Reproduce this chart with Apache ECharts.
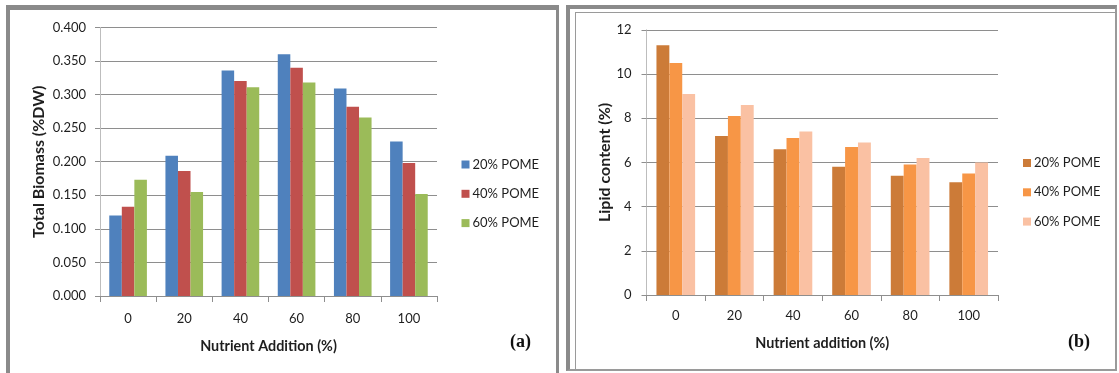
<!DOCTYPE html>
<html>
<head>
<meta charset="utf-8">
<script src="https://cdn.jsdelivr.net/npm/echarts@6/dist/echarts.min.js"></script>
<style>
  html, body { margin: 0; padding: 0; background: #fff; }
  #wrap { position: relative; width: 1119px; height: 373px; overflow: hidden; background: #fff; }
  .chart { position: absolute; top: 0; height: 373px; }
  #chartA { left: 0; width: 562px; }
  #chartB { left: 562px; width: 557px; }
  .bd { position: absolute; box-sizing: border-box; pointer-events: none; }
  #bA { left: 6px; top: 5px; width: 553px; height: 420px; border-left: 4px solid #8a8a8a; border-top: 5px solid #8a8a8a; border-right: 3px solid #8a8a8a; }
  #bB { left: 566px; top: 5px; width: 551px; height: 366px; border-left: 4px solid #8a8a8a; border-top: 4px solid #8a8a8a; border-right: 2px solid #9a9a9a; border-bottom: 2px solid #9a9a9a; }
  #bB2 { left: 575px; top: 12px; width: 541px; height: 358px; border-left: 1px solid #9a9a9a; border-top: 1px solid #9a9a9a; }
</style>
</head>
<body>
<div id="wrap">
  <div id="chartA" class="chart"></div>
  <div id="chartB" class="chart"></div>
  <div id="bA" class="bd"></div>
  <div id="bB" class="bd"></div>
  <div id="bB2" class="bd"></div>
</div>
<script>
// ---- data ----
const categories = ['0', '20', '40', '60', '80', '100'];
const seriesNames = ['20% POME', '40% POME', '60% POME'];

const biomass20 = [0.120, 0.209, 0.336, 0.360, 0.309, 0.230];
const biomass40 = [0.133, 0.186, 0.320, 0.340, 0.282, 0.198];
const biomass60 = [0.173, 0.155, 0.311, 0.318, 0.266, 0.152];

const lipid20 = [11.3, 7.2, 6.6, 5.8, 5.4, 5.1];
const lipid40 = [10.5, 8.1, 7.1, 6.7, 5.9, 5.5];
const lipid60 = [9.1, 8.6, 7.4, 6.9, 6.2, 6.0];

const biomassAxis = { min: 0, max: 0.4, interval: 0.05, decimals: 3 };
const lipidAxis = { min: 0, max: 12, interval: 2, decimals: 0 };

const titleA = { y: 'Total Biomass (%DW)', x: 'Nutrient Addition (%)', tag: '(a)' };
const titleB = { y: 'Lipid content (%)', x: 'Nutrient addition (%)', tag: '(b)' };

const colorsA = ['#4F81BD', '#C0504D', '#9BBB59'];
const colorsB = ['#CC7B38', '#F79646', '#FAC1A3'];

// ---- styling ----
const FONT = 'Lato, "Open Sans", sans-serif';
const TXT = '#1e1e1e';
const GRID = '#8e8e8e';

function makeOption(cfg) {
  return {
    animation: false,
    textStyle: { fontFamily: FONT },
    grid: { left: cfg.grid[0], top: cfg.grid[1], width: cfg.grid[2], height: cfg.grid[3] },
    legend: {
      orient: 'vertical',
      left: cfg.legend[0], top: cfg.legend[1],
      padding: 0,
      itemWidth: 8, itemHeight: 8, itemGap: 16.3,
      icon: 'rect',
      textStyle: { fontFamily: FONT, fontSize: 13, color: TXT, padding: [0, 0, 0, -2] },
      data: seriesNames
    },
    xAxis: {
      type: 'category',
      data: categories,
      name: cfg.titles.x,
      nameLocation: 'middle',
      nameGap: cfg.xNameGap,
      nameMoveOverlap: false,
      nameTextStyle: { fontFamily: FONT, fontSize: 14.4, fontWeight: 'bold', color: TXT },
      axisLine: { lineStyle: { color: GRID, width: 1 } },
      axisTick: { show: true, length: 6, alignWithLabel: false, lineStyle: { color: GRID } },
      axisLabel: { fontFamily: FONT, fontSize: 13, color: TXT, margin: cfg.xLabelMargin }
    },
    yAxis: {
      type: 'value',
      min: cfg.axis.min, max: cfg.axis.max, interval: cfg.axis.interval,
      name: cfg.titles.y,
      nameLocation: 'middle',
      nameGap: cfg.yNameGap,
      nameMoveOverlap: false,
      nameTextStyle: { fontFamily: FONT, fontSize: 16, fontWeight: 'bold', color: TXT },
      axisLine: { show: true, lineStyle: { color: '#bdbdbd', width: 1 } },
      axisTick: { show: true, length: 5, lineStyle: { color: GRID } },
      splitLine: { show: true, lineStyle: { color: GRID, width: 1 } },
      axisLabel: {
        fontFamily: FONT, fontSize: 13, color: TXT, margin: cfg.yLabelMargin,
        formatter: v => v.toFixed(cfg.axis.decimals)
      }
    },
    graphic: [{
      type: 'text',
      left: cfg.tag[0], top: cfg.tag[1],
      style: { text: cfg.titles.tag, font: 'bold 18px "Liberation Serif", "Times New Roman", serif', fill: '#111' }
    }],
    series: cfg.data.map((d, i) => ({
      name: seriesNames[i],
      type: 'bar',
      data: d,
      barGap: '0%',
      barCategoryGap: cfg.catGap,
      itemStyle: { color: cfg.colors[i] }
    }))
  };
}

const chartA = echarts.init(document.getElementById('chartA'), null, { renderer: 'canvas' });
chartA.setOption(makeOption({
  grid: [100, 27.4, 337, 268.6],
  legend: [461.5, 158],
  titles: titleA,
  axis: biomassAxis,
  xNameGap: 43, yNameGap: 53,
  xLabelMargin: 16, yLabelMargin: 14,
  tag: [510, 333],
  catGap: '33%',
  colors: colorsA,
  data: [biomass20, biomass40, biomass60]
}));

const chartB = echarts.init(document.getElementById('chartB'), null, { renderer: 'canvas' });
chartB.setOption(makeOption({
  grid: [84.5, 29.8, 351.5, 265.2],
  legend: [461, 156.5],
  titles: titleB,
  axis: lipidAxis,
  xNameGap: 41, yNameGap: 34,
  xLabelMargin: 14, yLabelMargin: 15,
  tag: [506, 333],
  catGap: '34%',
  colors: colorsB,
  data: [lipid20, lipid40, lipid60]
}));
</script>
</body>
</html>
